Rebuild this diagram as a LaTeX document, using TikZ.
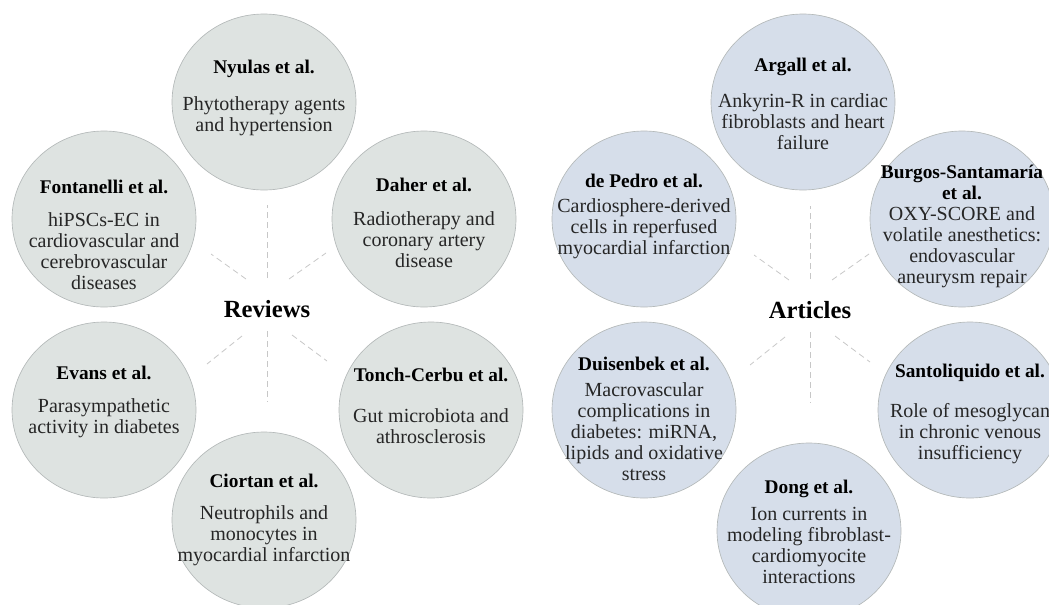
\documentclass[tikz,border=0pt]{standalone}
\usepackage{fontspec}
\setmainfont{Liberation Serif}
\usetikzlibrary{shapes.geometric}

\definecolor{revfill}{HTML}{DEE3E1}
\definecolor{artfill}{HTML}{D6DEEA}
\definecolor{bubline}{HTML}{B4B9B9}
\newcommand\bubttl{\color{black}\bfseries\fontsize{14.5}{15.75}\selectfont}

\begin{document}
\begin{tikzpicture}[x=0.75pt, y=-0.75pt,
	bub/.style={ellipse, draw=bubline, line width=0.5pt, minimum width=138pt, minimum height=132pt, inner sep=0pt},
	bubtext/.style={align=center, inner sep=0pt, text=black!85, font=\fontsize{15}{15.75}\selectfont},
	hub/.style={font=\fontsize{18.5}{21}\selectfont\bfseries, inner sep=1pt},
	spoke/.style={draw=black!22, line width=0.6pt, dash pattern=on 4.5pt off 3pt}]
	\useasboundingbox (0,0) rectangle (1049,604);
	\clip (0,0) rectangle (1049,604);
	\node[hub] (rev) at (267,309) {Reviews};
	\node[hub] (art) at (810,310) {Articles};
	\foreach \hubn in {rev,art}
		\foreach \ax/\ay/\bx/\by in {0/-31/0/-104, -21/-30/-56/-55, 22/-30/59/-56, -25/27/-60/55, 0/22/0/93, 25/26/60/52}
			\draw[spoke] ([shift={(\ax,\ay)}]\hubn.center) -- ([shift={(\bx,\by)}]\hubn.center);
	\foreach \nm/\colr/\x/\y/\ty/\gap/\ttl/\bdy in {
		nyul/revfill/264/102/98/12pt/{Nyulas et al.}/{Phytotherapy agents\\and hypertension},
		fon/revfill/104/219/235/9pt/{Fontanelli et al.}/{hiPSCs-EC in\\cardiovascular and\\cerebrovascular\\diseases},
		dah/revfill/424/219/223/10pt/{Daher et al.}/{Radiotherapy and\\coronary artery\\disease},
		eva/revfill/104/410/402/9pt/{Evans et al.}/{Parasympathetic\\activity in diabetes},
		ton/revfill/431/410/406/15pt/{Tonch-Cerbu et al.}/{Gut microbiota and\\athrosclerosis},
		cio/revfill/264/520/520/8pt/{Ciortan et al.}/{Neutrophils and\\monocytes in\\myocardial infarction},
		arg/artfill/803/102/104/11pt/{Argall et al.}/{Ankyrin-R in cardiac\\fibroblasts and heart\\failure},
		dep/artfill/644/219/216/3pt/{de Pedro et al.}/{Cardiosphere-derived\\cells in reperfused\\myocardial infarction},
		bur/artfill/962/219/226/0pt/{Burgos-Santamaría\\\bubttl et al.}/{OXY-SCORE and\\volatile anesthetics:\\endovascular\\aneurysm repair},
		dui/artfill/644/410/419/4pt/{Duisenbek et al.}/{Macrovascular\\complications in\\diabetes: miRNA,\\lipids and oxidative\\stress},
		san/artfill/970/410/414/14pt/{Santoliquido et al.}/{Role of mesoglycan\\in chronic venous\\insufficiency},
		don/artfill/809/531/532/5pt/{Dong et al.}/{Ion currents in\\modeling fibroblast-\\cardiomyocite\\interactions}} {
		\node[bub, fill=\colr] (\nm) at (\x,\y) {};
		\node[bubtext] (\nm-txt) at (\x,\ty) {\bubttl\ttl\\[\gap]\bdy};
	}
\end{tikzpicture}
\end{document}
